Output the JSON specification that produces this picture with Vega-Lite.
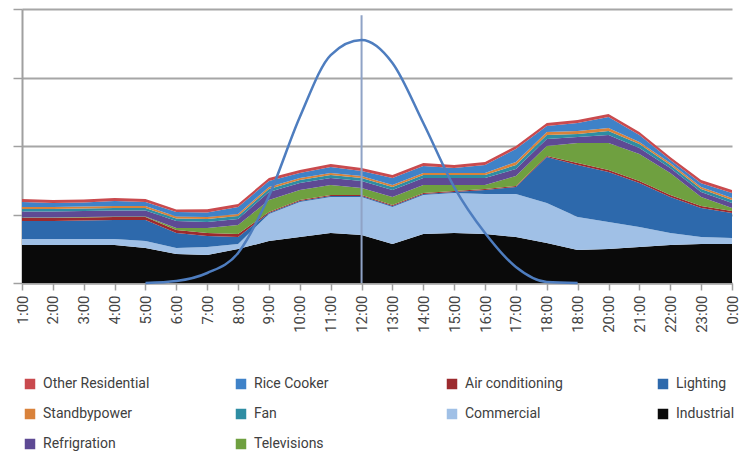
{
  "$schema": "https://vega.github.io/schema/vega-lite/v6.json",
  "autosize": {"type": "none"},
  "width": 710,
  "height": 274,
  "padding": {"left": 22, "top": 9, "right": 12, "bottom": 171},
  "config": {"view": {"stroke": null}, "font": "Roboto"},
  "datasets": {
    "load": [
      {"i": 0, "Industrial": 5.55, "Commercial": 0.88, "Lighting": 2.63, "Air conditioning": 0.44, "Televisions": 0.07, "Refrigration": 0.88, "Fan": 0.36, "Standbypower": 0.29, "Rice Cooker": 0.73, "Other Residential": 0.44, "Solar": null},
      {"i": 1, "Industrial": 5.55, "Commercial": 0.88, "Lighting": 2.63, "Air conditioning": 0.44, "Televisions": 0.07, "Refrigration": 0.88, "Fan": 0.36, "Standbypower": 0.29, "Rice Cooker": 0.58, "Other Residential": 0.44, "Solar": null},
      {"i": 2, "Industrial": 5.55, "Commercial": 0.88, "Lighting": 2.70, "Air conditioning": 0.44, "Televisions": 0.07, "Refrigration": 0.88, "Fan": 0.36, "Standbypower": 0.29, "Rice Cooker": 0.58, "Other Residential": 0.44, "Solar": null},
      {"i": 3, "Industrial": 5.55, "Commercial": 0.88, "Lighting": 2.77, "Air conditioning": 0.44, "Televisions": 0.07, "Refrigration": 0.88, "Fan": 0.36, "Standbypower": 0.29, "Rice Cooker": 0.73, "Other Residential": 0.44, "Solar": null},
      {"i": 4, "Industrial": 5.11, "Commercial": 1.02, "Lighting": 3.07, "Air conditioning": 0.44, "Televisions": 0.07, "Refrigration": 0.88, "Fan": 0.36, "Standbypower": 0.29, "Rice Cooker": 0.58, "Other Residential": 0.44, "Solar": 0},
      {"i": 5, "Industrial": 4.23, "Commercial": 0.88, "Lighting": 2.19, "Air conditioning": 0.44, "Televisions": 0.29, "Refrigration": 1.02, "Fan": 0.36, "Standbypower": 0.29, "Rice Cooker": 0.66, "Other Residential": 0.36, "Solar": 0.29},
      {"i": 6, "Industrial": 4.09, "Commercial": 1.17, "Lighting": 1.61, "Air conditioning": 0.44, "Televisions": 0.73, "Refrigration": 0.88, "Fan": 0.44, "Standbypower": 0.29, "Rice Cooker": 0.66, "Other Residential": 0.44, "Solar": 1.46},
      {"i": 7, "Industrial": 4.96, "Commercial": 0.73, "Lighting": 1.02, "Air conditioning": 0.44, "Televisions": 1.31, "Refrigration": 0.88, "Fan": 0.44, "Standbypower": 0.29, "Rice Cooker": 1.02, "Other Residential": 0.44, "Solar": 4.38},
      {"i": 8, "Industrial": 6.13, "Commercial": 3.94, "Lighting": 0.15, "Air conditioning": 0.15, "Televisions": 1.75, "Refrigration": 1.17, "Fan": 0.44, "Standbypower": 0.29, "Rice Cooker": 0.88, "Other Residential": 0.44, "Solar": 12.70},
      {"i": 9, "Industrial": 6.72, "Commercial": 5.11, "Lighting": 0.15, "Air conditioning": 0.15, "Televisions": 1.46, "Refrigration": 1.02, "Fan": 0.44, "Standbypower": 0.29, "Rice Cooker": 0.73, "Other Residential": 0.44, "Solar": 24.23},
      {"i": 10, "Industrial": 7.30, "Commercial": 5.26, "Lighting": 0.15, "Air conditioning": 0.15, "Televisions": 1.46, "Refrigration": 1.02, "Fan": 0.44, "Standbypower": 0.29, "Rice Cooker": 0.88, "Other Residential": 0.44, "Solar": 33.28},
      {"i": 11, "Industrial": 7.01, "Commercial": 5.55, "Lighting": 0.15, "Air conditioning": 0.15, "Televisions": 1.02, "Refrigration": 1.02, "Fan": 0.44, "Standbypower": 0.29, "Rice Cooker": 0.73, "Other Residential": 0.44, "Solar": 35.47},
      {"i": 12, "Industrial": 5.69, "Commercial": 5.40, "Lighting": 0.15, "Air conditioning": 0.15, "Televisions": 1.17, "Refrigration": 1.02, "Fan": 0.44, "Standbypower": 0.29, "Rice Cooker": 1.02, "Other Residential": 0.44, "Solar": 32.12},
      {"i": 13, "Industrial": 7.15, "Commercial": 5.69, "Lighting": 0.15, "Air conditioning": 0.15, "Televisions": 1.17, "Refrigration": 1.02, "Fan": 0.44, "Standbypower": 0.29, "Rice Cooker": 1.02, "Other Residential": 0.44, "Solar": 23.36},
      {"i": 14, "Industrial": 7.30, "Commercial": 5.84, "Lighting": 0.15, "Air conditioning": 0.15, "Televisions": 0.88, "Refrigration": 1.02, "Fan": 0.44, "Standbypower": 0.29, "Rice Cooker": 0.73, "Other Residential": 0.44, "Solar": 14.01},
      {"i": 15, "Industrial": 7.15, "Commercial": 5.84, "Lighting": 0.58, "Air conditioning": 0.15, "Televisions": 0.58, "Refrigration": 1.02, "Fan": 0.44, "Standbypower": 0.29, "Rice Cooker": 1.17, "Other Residential": 0.44, "Solar": 7.30},
      {"i": 16, "Industrial": 6.72, "Commercial": 6.28, "Lighting": 1.02, "Air conditioning": 0.15, "Televisions": 1.46, "Refrigration": 1.02, "Fan": 0.58, "Standbypower": 0.44, "Rice Cooker": 1.90, "Other Residential": 0.44, "Solar": 2.34},
      {"i": 17, "Industrial": 5.84, "Commercial": 5.84, "Lighting": 6.72, "Air conditioning": 0.15, "Televisions": 1.46, "Refrigration": 1.02, "Fan": 0.58, "Standbypower": 0.44, "Rice Cooker": 0.88, "Other Residential": 0.44, "Solar": 0.15},
      {"i": 18, "Industrial": 4.82, "Commercial": 4.82, "Lighting": 7.59, "Air conditioning": 0.29, "Televisions": 2.92, "Refrigration": 0.88, "Fan": 0.44, "Standbypower": 0.44, "Rice Cooker": 1.17, "Other Residential": 0.44, "Solar": 0},
      {"i": 19, "Industrial": 4.96, "Commercial": 3.94, "Lighting": 7.30, "Air conditioning": 0.29, "Televisions": 3.94, "Refrigration": 1.17, "Fan": 0.58, "Standbypower": 0.44, "Rice Cooker": 1.61, "Other Residential": 0.44, "Solar": null},
      {"i": 20, "Industrial": 5.26, "Commercial": 2.92, "Lighting": 6.42, "Air conditioning": 0.29, "Televisions": 3.94, "Refrigration": 0.88, "Fan": 0.58, "Standbypower": 0.29, "Rice Cooker": 1.02, "Other Residential": 0.44, "Solar": null},
      {"i": 21, "Industrial": 5.55, "Commercial": 1.75, "Lighting": 5.26, "Air conditioning": 0.29, "Televisions": 3.21, "Refrigration": 0.73, "Fan": 0.44, "Standbypower": 0.29, "Rice Cooker": 0.44, "Other Residential": 0.44, "Solar": null},
      {"i": 22, "Industrial": 5.69, "Commercial": 1.02, "Lighting": 4.23, "Air conditioning": 0.29, "Televisions": 1.31, "Refrigration": 0.73, "Fan": 0.44, "Standbypower": 0.29, "Rice Cooker": 0.58, "Other Residential": 0.44, "Solar": null},
      {"i": 23, "Industrial": 5.69, "Commercial": 0.88, "Lighting": 3.65, "Air conditioning": 0.29, "Televisions": 0.44, "Refrigration": 0.73, "Fan": 0.44, "Standbypower": 0.29, "Rice Cooker": 0.73, "Other Residential": 0.44, "Solar": null}
    ],
    "order": [
      {"s": "Industrial", "o": 0},
      {"s": "Commercial", "o": 1},
      {"s": "Lighting", "o": 2},
      {"s": "Air conditioning", "o": 3},
      {"s": "Televisions", "o": 4},
      {"s": "Refrigration", "o": 5},
      {"s": "Fan", "o": 6},
      {"s": "Standbypower", "o": 7},
      {"s": "Rice Cooker", "o": 8},
      {"s": "Other Residential", "o": 9}
    ]
  },
  "layer": [
    {
      "data": {"name": "load"},
      "transform": [
        {"fold": ["Industrial", "Commercial", "Lighting", "Air conditioning", "Televisions", "Refrigration", "Fan", "Standbypower", "Rice Cooker", "Other Residential"], "as": ["s", "v"]},
        {"lookup": "s", "from": {"data": {"name": "order"}, "key": "s", "fields": ["o"]}}
      ],
      "mark": {"type": "area", "interpolate": "linear"},
      "encoding": {
        "x": {
          "field": "i", "type": "ordinal",
          "scale": {"type": "point", "padding": 0},
          "axis": {
            "title": null,
            "labelExpr": "['1:00','2:00','3:00','4:00','5:00','6:00','7:00','8:00','9:00','10:00','11:00','12:00','13:00','14:00','15:00','16:00','17:00','18:00','18:00','20:00','21:00','22:00','23:00','0:00'][datum.value]",
            "labelAngle": -90,
            "labelFontSize": 15,
            "labelColor": "#444444",
            "labelPadding": 5,
            "domainColor": "#A0A0A0",
            "domainWidth": 2,
            "tickColor": "#A0A0A0",
            "tickWidth": 1.5,
            "tickSize": 7,
            "grid": false
          }
        },
        "y": {
          "field": "v", "type": "quantitative", "stack": "zero",
          "scale": {"domain": [0, 40], "nice": false},
          "axis": {
            "title": null,
            "values": [0, 10, 20, 30, 40],
            "labels": false,
            "tickSize": 9,
            "tickColor": "#A0A0A0",
            "tickWidth": 1.5,
            "grid": true,
            "gridColor": "#A6A6A6",
            "gridWidth": 2,
            "domainColor": "#A0A0A0",
            "domainWidth": 2
          }
        },
        "order": {"field": "o", "type": "quantitative"},
        "color": {
          "field": "s", "type": "nominal",
          "scale": {
            "domain": ["Other Residential", "Rice Cooker", "Air conditioning", "Lighting", "Standbypower", "Fan", "Commercial", "Industrial", "Refrigration", "Televisions"],
            "range": ["#C94A4E", "#3F82C8", "#9C2A2E", "#2D69AC", "#D9823B", "#2E8DA3", "#A0C0E6", "#0A0A0A", "#5E4A94", "#6FA040"]
          },
          "legend": {
            "orient": "none",
            "direction": "horizontal",
            "legendX": 1,
            "legendY": 368,
            "columns": 4,
            "title": null,
            "symbolType": "square",
            "symbolSize": 110,
            "symbolStrokeWidth": 0,
            "labelFontSize": 14,
            "labelColor": "#404040",
            "labelOffset": 6,
            "gridAlign": "all",
            "columnPadding": 84,
            "rowPadding": 16
          }
        }
      }
    },
    {
      "data": {"values": [{}]},
      "mark": {"type": "rule", "color": "#8FA3C6", "strokeWidth": 2},
      "encoding": {
        "x": {"datum": 11, "type": "ordinal"},
        "y": {"datum": 39.1},
        "y2": {"datum": 0}
      }
    },
    {
      "data": {"name": "load"},
      "transform": [{"filter": "datum.Solar != null"}],
      "mark": {"type": "line", "interpolate": "monotone", "color": "#4E7DBF", "strokeWidth": 2.5},
      "encoding": {
        "x": {"field": "i", "type": "ordinal"},
        "y": {"field": "Solar", "type": "quantitative"}
      }
    }
  ]
}
